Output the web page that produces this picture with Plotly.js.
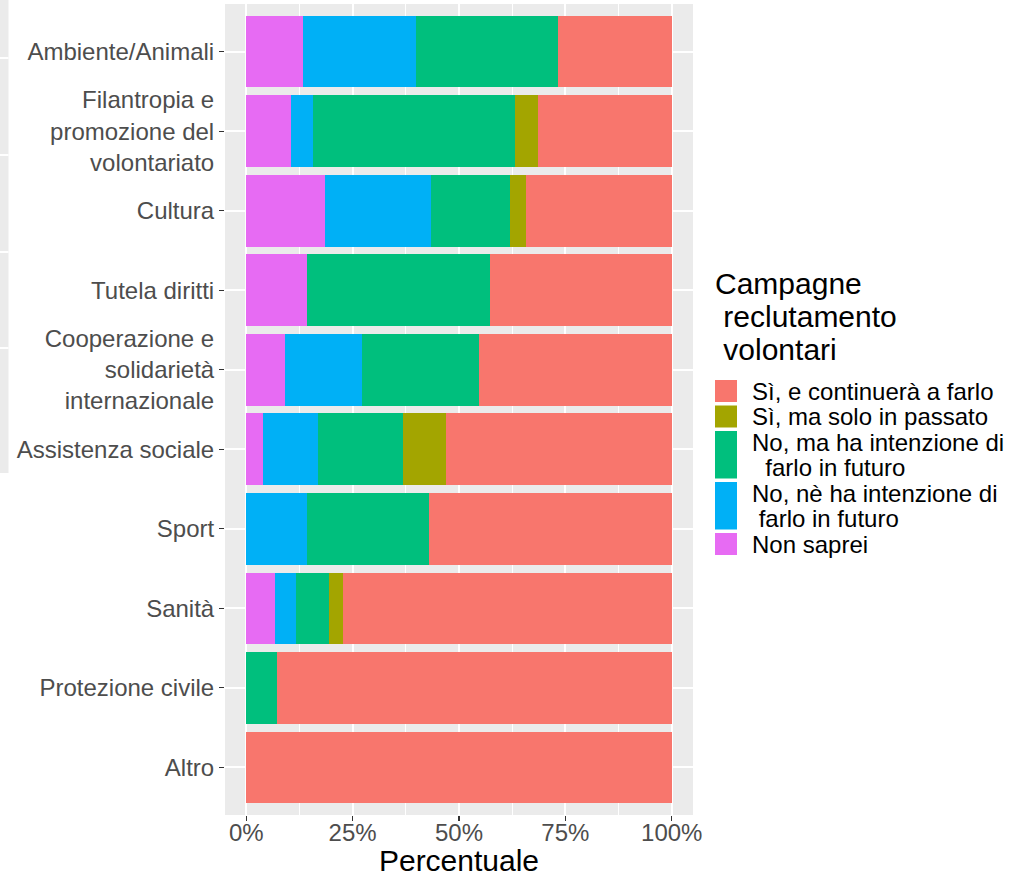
<!DOCTYPE html>
<html><head><meta charset="utf-8">
<script src="https://cdn.plot.ly/plotly-3.0.1.min.js"></script>
<style>html,body{margin:0;padding:0;background:#fff;}#chart{width:1013px;height:877px;}</style>
</head><body><div id="chart"></div>
<script>
// ---- data ----
const categories = ["Ambiente/Animali","Filantropia e<br>promozione del<br>volontariato","Cultura","Tutela diritti","Cooperazione e<br>solidarietà<br>internazionale","Assistenza sociale","Sport","Sanità","Protezione civile","Altro"];
const nonSaprei   = [13.3, 10.5, 18.5, 14.3,  9.1,  3.9,  0.0,  6.8,  0.0,   0];
const noNeHa      = [26.7,  5.3, 25.0,  0.0, 18.2, 12.9, 14.3,  4.8,  0.0,   0];
const noMaHa      = [33.3, 47.4, 18.4, 42.9, 27.3, 20.1, 28.6,  7.8,  7.3,   0];
const siPassato   = [ 0.0,  5.3,  3.8,  0.0,  0.0, 10.0,  0.0,  3.4,  0.0,   0];
const siContinua  = [26.7, 31.6, 34.3, 42.9, 45.5, 53.1, 57.1, 77.2, 92.7, 100];
const xTickVals = [0, 25, 50, 75, 100];
const xTickText = ["0%", "25%", "50%", "75%", "100%"];
const legendTitle = ["Campagne", " reclutamento", " volontari"];
// legend order (top to bottom)
const seriesNames = ["Sì, e continuerà a farlo", "Sì, ma solo in passato", "No, ma ha intenzione di\n  farlo in futuro", "No, nè ha intenzione di\n farlo in futuro", "Non saprei"];
const seriesValues = [siContinua, siPassato, noMaHa, noNeHa, nonSaprei];
const seriesColors = ["#F8766D", "#A3A500", "#00BF7D", "#00B0F6", "#E76BF3"];

// ---- geometry (pixels) ----
const W = 1013, H = 877;
const M = {l: 225, r: 320, t: 4, b: 62};
const pw = W - M.l - M.r, ph = H - M.t - M.b;
const px = x => (x - M.l) / pw;
const py = y => (H - M.b - y) / ph;
const FONT = "Liberation Sans, Arial, Helvetica, sans-serif";

// stacking order left->right: Non saprei, No nè, No ma, Sì passato, Sì continua
const traces = [];
for (let i = seriesNames.length - 1; i >= 0; i--) {
  traces.push({
    type: "bar", orientation: "h",
    y: categories, x: seriesValues[i],
    name: seriesNames[i].replace(/\n/g, " "),
    marker: {color: seriesColors[i], line: {width: 0}},
    hoverinfo: "x+y+name", showlegend: false
  });
}

// ---- custom ggplot-like legend ----
const annotations = [], shapes = [];
const titleY = [283, 316, 349];
legendTitle.forEach((t, i) => annotations.push({
  xref: "paper", yref: "paper", x: px(713), y: py(titleY[i]),
  xanchor: "left", yanchor: "middle", showarrow: false,
  text: t.replace(/ /g, "\u00A0"), font: {family: FONT, size: 30, color: "#000"}
}));
let lineY = 391; const pitch = 25.5;
seriesNames.forEach((nm, i) => {
  const lines = nm.split("\n");
  const first = lineY;
  lines.forEach(ln => {
    annotations.push({
      xref: "paper", yref: "paper", x: px(750), y: py(lineY),
      xanchor: "left", yanchor: "middle", showarrow: false,
      text: ln.replace(/ /g, "\u00A0"), font: {family: FONT, size: 24, color: "#000"}
    });
    lineY += pitch;
  });
  const last = lineY - pitch;
  shapes.push({
    type: "rect", xref: "paper", yref: "paper",
    x0: px(715), x1: px(737), y0: py(first - 11), y1: py(last + 11),
    fillcolor: seriesColors[i], line: {width: 0}
  });
});

// faint gray strip at the far left edge of the reference image
shapes.push({type: "rect", xref: "paper", yref: "paper", x0: px(0), x1: px(8.5), y0: py(473), y1: py(0), fillcolor: "#EBEBEB", line: {width: 0}, layer: "below"});
[58, 155, 252, 348].forEach(yy => shapes.push({type: "line", xref: "paper", yref: "paper", x0: px(0), x1: px(8.5), y0: py(yy), y1: py(yy), line: {color: "#FFFFFF", width: 2}, layer: "below"}));

const layout = {
  width: W, height: H,
  margin: M,
  paper_bgcolor: "#FFFFFF", plot_bgcolor: "#EBEBEB",
  font: {family: FONT, size: 24, color: "#4D4D4D"},
  barmode: "stack", bargap: 0.1,
  showlegend: false,
  xaxis: {
    range: [-5, 105], tickvals: xTickVals, ticktext: xTickText,
    showgrid: true, gridcolor: "#FFFFFF", gridwidth: 2,
    minor: {tick0: 12.5, dtick: 25, showgrid: true, gridcolor: "#FFFFFF", gridwidth: 1},
    zeroline: false, showline: false,
    ticks: "outside", ticklen: 5, tickwidth: 1.2, tickcolor: "#333333",
    ticklabelstandoff: -9,
    tickfont: {family: FONT, size: 24, color: "#4D4D4D"},
    title: {text: "Percentuale", font: {family: FONT, size: 30, color: "#000000"}, standoff: 12},
    fixedrange: true
  },
  yaxis: {
    type: "category", categoryorder: "array", categoryarray: categories,
    range: [9.6, -0.6],
    showgrid: true, gridcolor: "#FFFFFF", gridwidth: 2,
    zeroline: false, showline: false,
    ticks: "outside", ticklen: 5, tickwidth: 1.2, tickcolor: "#333333",
    tickfont: {family: FONT, size: 24, color: "#4D4D4D"},
    fixedrange: true
  },
  annotations: annotations, shapes: shapes
};
Plotly.newPlot("chart", traces, layout, {displayModeBar: false, staticPlot: true});
</script></body></html>
